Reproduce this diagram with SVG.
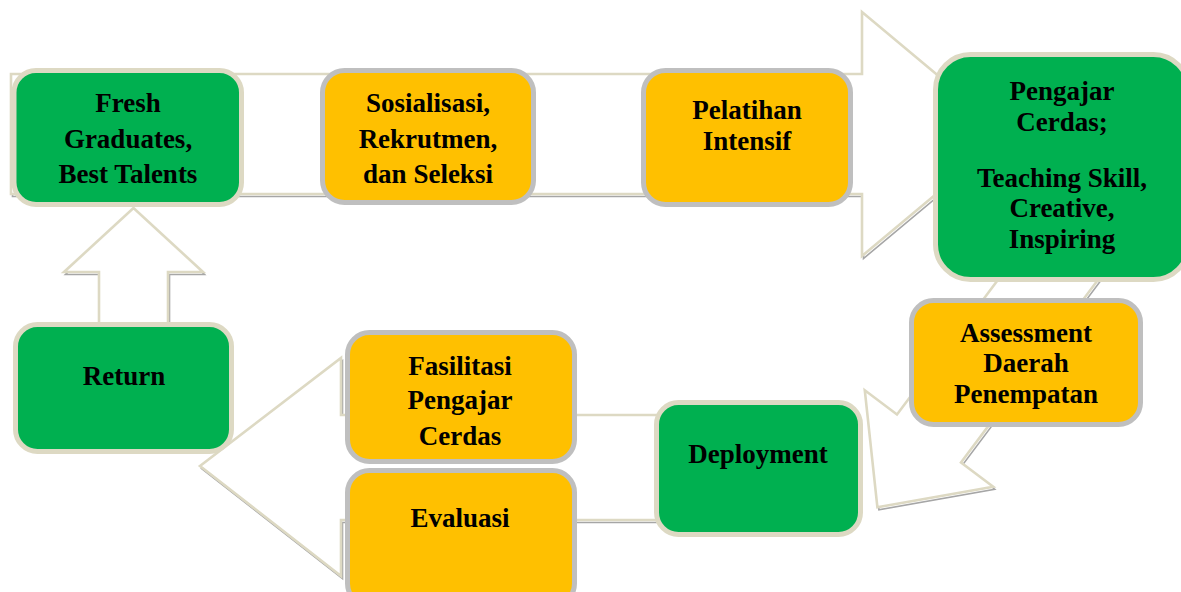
<svg xmlns="http://www.w3.org/2000/svg" width="1181" height="592" viewBox="0 0 1181 592">
<defs>
<style>
.sh{fill:none;stroke:#A6A6A6;stroke-width:1.6;stroke-linejoin:miter}
.ar{fill:#FFFFFF;stroke:#DDD9C3;stroke-width:2.6;stroke-linejoin:miter}
.g{fill:#00B050;stroke:#DDD9C3;stroke-width:5}
.o{fill:#FFC000;stroke:#BFBFBF;stroke-width:5}
text{font-family:"Liberation Serif","Times New Roman",serif;font-weight:bold;font-size:27px;fill:#000000;text-anchor:middle}
</style>
</defs>
<rect width="1181" height="592" fill="#FFFFFF"/>
<g id="connectors">
<g id="arrow-top">
<polygon class="sh" transform="translate(1.5,2.5)" points="11,74 862,74 862,12 1008,134 862,256 862,194 11,194"/>
<polygon class="ar" points="11,74 862,74 862,12 1008,134 862,256 862,194 11,194"/>
</g>
<g id="arrow-down">
<polygon class="sh" transform="translate(1.5,2.5)" points="1047,214.5 897,414.5 864.8,390.3 877.4,507.3 993.2,486.7 961,462.5 1111,262.5"/>
<polygon class="ar" points="1047,214.5 897,414.5 864.8,390.3 877.4,507.3 993.2,486.7 961,462.5 1111,262.5"/>
</g>
<g id="arrow-left">
<polygon class="sh" transform="translate(1.5,2.5)" points="700,415 341,415 341,358 200,466 341,576 341,520 700,520"/>
<polygon class="ar" points="700,415 341,415 341,358 200,466 341,576 341,520 700,520"/>
</g>
<g id="arrow-up">
<polygon class="sh" transform="translate(1.5,2.5)" points="99,335 99,272 64,272 133.5,208 203,272 168,272 168,335"/>
<polygon class="ar" points="99,335 99,272 64,272 133.5,208 203,272 168,272 168,335"/>
</g>
</g>
<g id="node-fresh">
<rect class="g" x="14" y="70.5" width="227.5" height="134" rx="22"/>
<text x="128" y="112">Fresh</text>
<text x="128" y="148">Graduates,</text>
<text x="128" y="183">Best Talents</text>
</g>
<g id="node-sosialisasi">
<rect class="o" x="322.5" y="70.5" width="211" height="132" rx="22"/>
<text x="428" y="112">Sosialisasi,</text>
<text x="428" y="148">Rekrutmen,</text>
<text x="428" y="183">dan Seleksi</text>
</g>
<g id="node-pelatihan">
<rect class="o" x="643.5" y="70.5" width="207" height="134" rx="22"/>
<text x="747" y="119">Pelatihan</text>
<text x="747" y="150">Intensif</text>
</g>
<g id="node-pengajar">
<rect class="g" x="935.5" y="54.5" width="253" height="225" rx="35"/>
<text x="1062" y="100">Pengajar</text>
<text x="1062" y="131">Cerdas;</text>
<text x="1062" y="187">Teaching Skill,</text>
<text x="1062" y="217">Creative,</text>
<text x="1062" y="248">Inspiring</text>
</g>
<g id="node-assessment">
<rect class="o" x="911.5" y="300.5" width="229" height="124" rx="22"/>
<text x="1026" y="342">Assessment</text>
<text x="1026" y="372">Daerah</text>
<text x="1026" y="403">Penempatan</text>
</g>
<g id="node-deployment">
<rect class="g" x="656.5" y="402.5" width="204" height="132" rx="22"/>
<text x="758" y="463">Deployment</text>
</g>
<g id="node-fasilitasi">
<rect class="o" x="347.5" y="332.5" width="227" height="129" rx="22"/>
<text x="460" y="375">Fasilitasi</text>
<text x="460" y="409">Pengajar</text>
<text x="460" y="445">Cerdas</text>
</g>
<g id="node-evaluasi">
<rect class="o" x="347.5" y="470.5" width="227" height="135" rx="22"/>
<text x="460" y="527">Evaluasi</text>
</g>
<g id="node-return">
<rect class="g" x="15.5" y="324.5" width="216" height="127" rx="22"/>
<text x="124" y="385">Return</text>
</g>
</svg>
